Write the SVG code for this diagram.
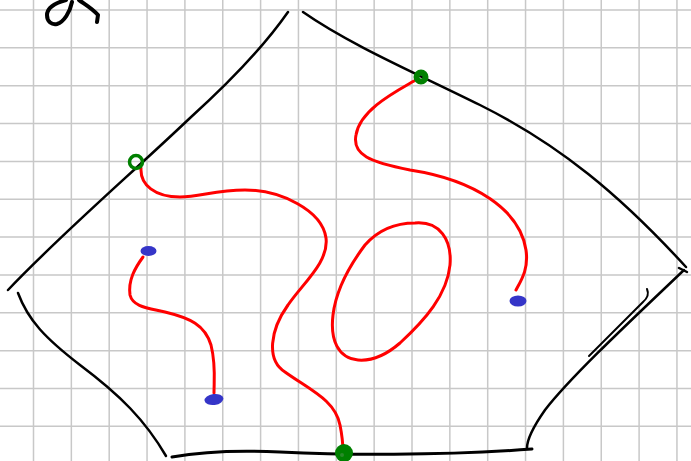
<svg xmlns="http://www.w3.org/2000/svg" width="691" height="461" viewBox="0 0 691 461">
<style>
.grid{stroke:#c8c8c8;stroke-width:1.5;fill:none}
.ink{stroke:#000;stroke-width:2.5;fill:none;stroke-linecap:round;stroke-linejoin:round}
.red{stroke:#ff0000;stroke-width:3;fill:none;stroke-linecap:round;stroke-linejoin:round}
.green{stroke:#008000;stroke-width:3.5;fill:none}
.blue{fill:#3535c8}
</style>
<rect width="691" height="461" fill="#fff"/>
<path class="grid" d="M33.5,0V461M71.35,0V461M109.2,0V461M147.05,0V461M184.9,0V461M222.75,0V461M260.6,0V461M298.45,0V461M336.3,0V461M374.15,0V461M412,0V461M449.85,0V461M487.7,0V461M525.55,0V461M563.4,0V461M601.25,0V461M639.1,0V461M676.95,0V461M0,10H691M0,47.85H691M0,85.7H691M0,123.55H691M0,161.4H691M0,199.25H691M0,237.1H691M0,274.95H691M0,312.8H691M0,350.65H691M0,388.5H691M0,426.35H691"/>
<g id="scribble">
<path class="ink" style="stroke-width:4" d="M66,0 C55,3 47,8 47,15 C47,22 52,25 57,24 C64,22 70,12 72,2"/>
<path class="ink" style="stroke-width:4" d="M79,0 C86,5 93,9 98,15 L97,22"/>
</g>
<g id="outline">
<path class="ink" d="M288,12 C265,45 232,80 190,118 C130,175 60,235 8,290"/>
<path class="ink" d="M303,12 C350,45 420,75 480,105 C560,145 620,195 686,267"/>
<path class="ink" d="M679,268 L687,272"/>
<path class="ink" d="M684,270 C640,312 572,375 545,410 C531,430 527,440 527,448"/>
<path class="ink" style="stroke-width:2" d="M647,289 Q650,296 643,302 L589,356"/>
<path class="ink" d="M18,293 C28,320 45,338 80,365 C120,395 145,420 166,456"/>
<path class="ink" style="stroke-width:3" d="M172,457 C200,452 240,450 280,452 C340,455 440,456 532,449"/>
</g>
<g id="connectors">
<path class="red" d="M141,168 C140,185 155,197 180,197 C200,197 215,190 245,190 C280,190 322,210 326,238 C329,262 303,283 288,305 C270,330 266,360 285,372 C310,390 335,400 340,425 C343,440 343,448 343,452"/>
<path class="red" d="M414,81 C395,92 360,110 356,135 C352,155 370,162 410,170 C475,180 520,210 526,250 C529,270 520,282 516,290"/>
<path class="red" d="M415,223 C440,221 452,240 450,265 C447,295 425,320 400,343 C385,356 370,361 358,360 C338,358 330,340 333,315 C336,290 350,265 365,245 C380,228 398,223 415,223 Z"/>
<path class="red" d="M143,257 C135,268 128,280 130,295 C133,307 148,308 165,312 C190,318 205,325 211,345 C216,365 214,380 214,393"/>
</g>
<g id="node-g1"><circle class="green" cx="136" cy="162" r="6.5"/></g>
<g id="node-g2"><circle class="green" cx="421" cy="77" r="4.5" style="stroke-width:6"/></g>
<g id="node-g3"><circle cx="344" cy="453" r="9" fill="#008000"/><circle cx="342" cy="455" r="2" fill="#2a8a2a"/></g>
<g id="node-b1"><ellipse class="blue" cx="148.5" cy="251" rx="8" ry="5"/></g>
<g id="node-b2"><ellipse class="blue" cx="214" cy="399.5" rx="9.5" ry="5.5" transform="rotate(-8 214 399.5)"/></g>
<g id="node-b3"><ellipse class="blue" cx="518" cy="301" rx="8.5" ry="5.5"/></g>
</svg>
